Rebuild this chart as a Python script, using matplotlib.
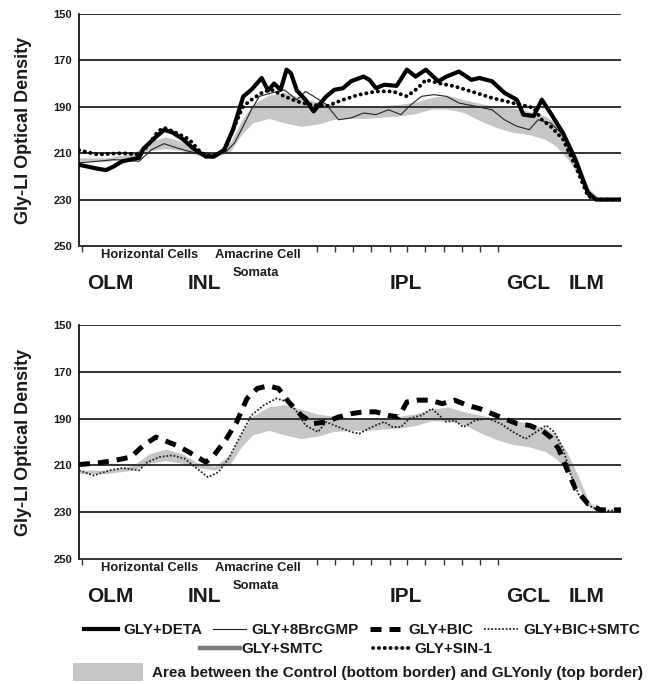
import matplotlib
matplotlib.use("Agg")
import matplotlib.pyplot as plt
from matplotlib.lines import Line2D
from matplotlib.patches import Patch

plt.rcParams['font.family'] = ['Liberation Sans', 'DejaVu Sans']
plt.rcParams['font.weight'] = 'bold'

# ---------------- data (retinal depth %, optical density) ----------------
x_area = [0, 5, 10, 13, 16, 19, 22, 25, 28, 30, 32, 35, 38, 41, 44, 47, 50, 53, 56, 59,
          62, 65, 68, 71, 74, 77, 80, 83, 86, 88, 90, 92, 94, 96, 100]
gly_only = [212, 212, 210, 205, 203, 205, 209, 210.5, 205, 196, 189, 185, 184, 186, 188, 189,
            189.5, 190, 189.5, 189, 188, 186, 185, 187, 188.5, 190, 190.5, 192, 194, 197,
            204, 214, 225, 229.5, 230]
control = [213.5, 213.5, 212, 209, 208, 209, 211, 212, 209, 202, 197, 195, 197, 198.5, 197.5,
           195.5, 195, 195, 194.5, 194, 193, 191, 191, 192.5, 196, 199, 201, 202, 204, 207,
           212, 219, 227, 230, 230]

x_deta = [0, 3.4, 5.0, 6.5, 8.0, 11.1, 11.9, 14.2, 15.7, 17.2, 19.2, 21.1, 23.4, 24.9, 26.8,
          28.4, 30.3, 31.8, 33.7, 34.9, 36.0, 37.2, 38.3, 39.1, 40.2, 41.8, 43.3, 45.6, 47.1,
          48.7, 50.2, 52.5, 53.6, 54.8, 56.3, 58.6, 60.5, 62.1, 64.0, 66.3, 67.8, 70.1, 72.4,
          73.9, 76.2, 78.5, 80.8, 82.0, 83.9, 85.4, 87.0, 89.3, 91.6, 93.9, 95.4, 100]
y_deta = [215, 216.7, 217.3, 215.6, 213.5, 212, 208, 203, 200, 201, 204, 208, 211.5, 211.5,
          208.5, 200, 185.6, 182.7, 177.6, 183, 180, 182.7, 174, 175.5, 183, 187, 192, 185.6,
          182.7, 182, 179, 177, 178.4, 182, 180.5, 181, 174, 177, 174, 179, 177, 174.8, 178.4,
          177.6, 179, 184, 187, 193.4, 194, 187, 192.7, 201.3, 212.7, 227, 230, 230]

x_sin1 = [0, 3.4, 8.0, 11.1, 12.6, 14.6, 15.7, 18.0, 20.3, 22.6, 24.5, 26.8, 28.7, 30.3, 31.8,
          34.1, 35.6, 37.9, 40.2, 42.5, 45.6, 48.7, 51.7, 54.8, 57.9, 60.5, 62.5, 64.0, 66.3,
          69.3, 72.4, 76.2, 80.1, 83.9, 85.4, 87.0, 89.3, 91.6, 93.9, 95.4, 100]
y_sin1 = [208.7, 210.6, 210, 210.6, 207, 200.6, 199, 201.3, 204, 210, 211.3, 209, 198.4, 189.8,
          187, 183.4, 182.7, 185.5, 187.7, 189, 189.8, 187, 184.8, 183.4, 183.4, 185.5, 182,
          178.4, 179.8, 181.2, 183.4, 186.2, 188.4, 190.5, 195.6, 198.4, 204, 215.6, 228.5,
          230, 230]

x_8br = [0, 3.4, 6.5, 11.1, 13.4, 15.7, 18.0, 20.3, 23.4, 25.3, 27.2, 28.7, 30.3, 31.8, 33.3,
         35.6, 37.9, 40.2, 41.8, 43.3, 45.6, 47.9, 50.2, 52.5, 54.8, 57.1, 59.4, 60.9, 63.2,
         65.5, 67.8, 70.1, 73.2, 76.2, 78.5, 80.8, 83.1, 84.7, 87.0, 89.3, 91.6, 93.9, 95.4, 100]
y_8br = [214.2, 213.5, 212.8, 213.5, 208.5, 205.9, 207.7, 209.2, 211, 211.3, 209.2, 205.6,
         198.4, 191.3, 185.5, 184, 182.7, 187, 183.4, 185.5, 189, 195.6, 194.8, 192.7, 193.4,
         191.3, 193.4, 189.8, 185.5, 184.8, 185.5, 188.4, 189.8, 191.3, 195.6, 198.4, 199.9,
         195.6, 197, 202, 214.2, 228.5, 230, 230]

x_bic = [0, 3.4, 6.5, 9.6, 11.9, 14.2, 15.7, 18.0, 20.3, 23.4, 24.9, 27.2, 29.1, 31.0, 32.9,
         34.9, 36.8, 38.7, 41.0, 43.3, 45.6, 47.9, 50.2, 52.5, 54.8, 57.1, 59.0, 60.5, 62.5,
         64.8, 67.0, 69.3, 71.6, 73.9, 76.2, 78.5, 80.8, 83.1, 85.4, 87.0, 88.5, 90.0, 91.6,
         93.9, 96.2, 100]
y_bic = [209.6, 209, 207.9, 206.4, 201.4, 197.9, 199.3, 201.4, 204.3, 208.6, 205.7, 198.6,
         191.4, 181.4, 177.1, 176, 177.1, 182.9, 188.6, 192.1, 191.4, 189.3, 187.9, 187.1,
         187.1, 188.6, 189.3, 182.9, 182.1, 182.1, 183.6, 182.1, 184.3, 185.7, 187.9, 190,
         192.1, 192.9, 195, 197.9, 202.9, 211.4, 220, 226.4, 229, 229]

x_bicsmtc = [0, 2.7, 5.7, 8.0, 11.1, 12.6, 14.9, 17.2, 19.5, 21.8, 23.8, 25.7, 27.6, 29.5,
             31.8, 34.1, 36.4, 38.7, 40.2, 41.8, 44.1, 45.6, 47.9, 50.2, 51.7, 54.0, 56.3,
             57.9, 59.4, 60.9, 63.2, 65.1, 67.8, 69.3, 70.9, 73.2, 75.5, 77.8, 80.1, 82.4,
             83.9, 86.2, 87.7, 89.3, 90.8, 92.3, 93.9, 96.2, 100]
y_bicsmtc = [212.1, 214.3, 212.1, 211.1, 212.1, 208.6, 206.4, 205.7, 207.1, 211.4, 215, 212.9,
             207.1, 198.6, 188.6, 184.3, 181.4, 182.9, 187.1, 192.9, 195.7, 191.4, 193.6,
             195.7, 196.4, 193.6, 191.4, 193.6, 193.6, 190, 188.6, 185.7, 191.4, 190.7, 193.6,
             190.7, 190, 192.1, 195.7, 198.6, 196.4, 192.9, 195.7, 202.9, 214.3, 222.9, 227.1,
             229.3, 229.3]

y_ticks = [150, 170, 190, 210, 230, 250]
x_tick_pos = [0.6, 43.9, 47.2, 50.6, 53.9, 57.3, 60.6, 63.9, 67.3, 70.6, 74.0, 77.3]

small_labels = ["Horizontal Cells", "Amacrine Cell", "Somata"]
small_label_x = [13.1, 33.0, 32.7]
small_label_off = [6.5, 6.5, 19.5]
layer_labels = ["OLM", "INL", "IPL", "GCL", "ILM"]
layer_label_x = [5.7, 23.2, 60.3, 82.8, 93.7]

# ---------------- styles ----------------
TXT = '#1a1a1a'
GRID = '#333333'
FILL = '#c6c6c6'
st_deta = dict(color='black', lw=3.0, solid_joinstyle='round')
st_8br = dict(color='#222222', lw=0.8)
st_sin1 = dict(color='black', lw=2.8, linestyle=(0, (0.05, 1.45)), dash_capstyle='round')
st_bic = dict(color='black', lw=3.6, linestyle=(0, (2.2, 1.6)))
st_bicsmtc = dict(color='#222222', lw=1.3, linestyle=(0, (1, 1)))
st_smtc = dict(color='#7a7a7a', lw=3.2)

fig = plt.figure(figsize=(6.49, 6.84), dpi=100)
ax1 = fig.add_axes([0.1217, 0.6404, 0.8351, 0.3392])
ax2 = fig.add_axes([0.1217, 0.1827, 0.8351, 0.3421])


def style_axis(ax):
    ax.set_xlim(0, 100)
    ax.set_ylim(250, 150)
    ax.set_yticks(y_ticks)
    ax.set_yticklabels([str(v) for v in y_ticks], fontsize=8, fontweight='bold', color=TXT)
    ax.tick_params(axis='y', length=0, pad=5)
    ax.set_xticks(x_tick_pos)
    ax.set_xticklabels([])
    ax.tick_params(axis='x', direction='out', length=4, width=1, color=GRID)
    for v in y_ticks[:-1]:
        ax.axhline(v, color=GRID, lw=1.4, zorder=1.5)
    for s in ['top', 'right']:
        ax.spines[s].set_visible(False)
    ax.spines['bottom'].set_color(GRID)
    ax.spines['bottom'].set_linewidth(1.4)
    ax.spines['left'].set_color('black')
    ax.spines['left'].set_linewidth(1.2)
    ax.set_ylabel('Gly-LI Optical Density', fontsize=13, fontweight='bold', color=TXT)
    ax.yaxis.set_label_coords(-0.087, 0.5)
    ax.fill_between(x_area, gly_only, control, color=FILL, lw=0, zorder=1)
    for t, xp, off in zip(small_labels, small_label_x, small_label_off):
        ax.annotate(t, xy=(xp, 0), xycoords=('data', 'axes fraction'),
                    xytext=(0, -off), textcoords='offset points', ha='center', va='center',
                    fontsize=9.3, fontweight='bold', color=TXT, annotation_clip=False)
    for t, xp in zip(layer_labels, layer_label_x):
        ax.annotate(t, xy=(xp, 0), xycoords=('data', 'axes fraction'),
                    xytext=(0, -27), textcoords='offset points', ha='center', va='center',
                    fontsize=15, fontweight='bold', color=TXT, annotation_clip=False)


style_axis(ax1)
style_axis(ax2)

ax1.plot(x_8br, y_8br, zorder=3, **st_8br)
ax1.plot(x_sin1, y_sin1, zorder=4, **st_sin1)
ax1.plot(x_deta, y_deta, zorder=5, **st_deta)

ax2.plot(x_bicsmtc, y_bicsmtc, zorder=3, **st_bicsmtc)
ax2.plot(x_bic, y_bic, zorder=4, **st_bic)

# ---------------- legend ----------------
prop = {'weight': 'bold', 'size': 11}
h1 = [Line2D([], [], **st_deta), Line2D([], [], **st_8br),
      Line2D([], [], **st_bic), Line2D([], [], **st_bicsmtc)]
l1 = ['GLY+DETA', 'GLY+8BrcGMP', 'GLY+BIC', 'GLY+BIC+SMTC']
leg1 = fig.legend(h1, l1, loc='center', bbox_to_anchor=(362 / 649, 1 - 630 / 684), ncol=4,
                  frameon=False, prop=prop, handlelength=2.2, handletextpad=0.35,
                  columnspacing=0.7, borderpad=0, borderaxespad=0)
h2 = [Line2D([], [], **st_smtc), Line2D([], [], **st_sin1)]
l2 = ['GLY+SMTC', 'GLY+SIN-1']
leg2 = fig.legend(h2, l2, loc='center', bbox_to_anchor=(346 / 649, 1 - 649 / 684), ncol=2,
                  frameon=False, prop=prop, handlelength=2.6, handletextpad=0.1,
                  columnspacing=3.3, borderpad=0, borderaxespad=0)
h3 = [Patch(facecolor=FILL, edgecolor='none')]
l3 = ['Area between the Control (bottom border) and GLYonly (top border)']
leg3 = fig.legend(h3, l3, loc='center', bbox_to_anchor=(358 / 649, 1 - 672 / 684), ncol=1,
                  frameon=False, prop=prop, handlelength=4.6, handleheight=1.35,
                  handletextpad=0.6, borderpad=0, borderaxespad=0)
for lg in (leg1, leg2, leg3):
    for t in lg.get_texts():
        t.set_color(TXT)

fig.savefig('out.png', dpi=100)
